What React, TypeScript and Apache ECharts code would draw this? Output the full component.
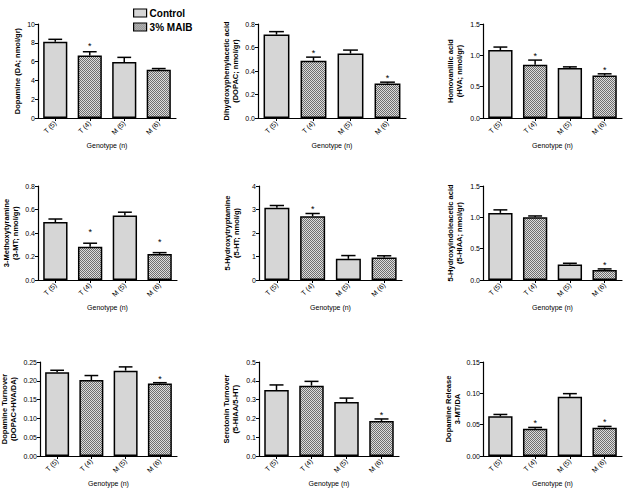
import React, { useEffect, useRef } from "react";
import * as echarts from "echarts";

// ---------- data ----------
const categories = ["T (5)", "T (4)", "M (5)", "M (6)"];
const seriesNames = ["Control", "3% MAIB"];
const xAxisTitle = "Genotype (n)";

const daMean = [8.1, 6.65, 5.95, 5.12];
const daSem = [0.27, 0.4, 0.5, 0.14];
const daSig = [0, 1, 0, 0];

const dopacMean = [0.71, 0.487, 0.549, 0.293];
const dopacSem = [0.025, 0.031, 0.029, 0.012];
const dopacSig = [0, 1, 0, 1];

const hvaMean = [1.084, 0.849, 0.796, 0.678];
const hvaSem = [0.048, 0.075, 0.02, 0.027];
const hvaSig = [0, 1, 0, 1];

const mtMean = [0.493, 0.282, 0.549, 0.222];
const mtSem = [0.026, 0.031, 0.028, 0.011];
const mtSig = [0, 1, 0, 1];

const htMean = [3.07, 2.71, 0.9, 0.96];
const htSem = [0.1, 0.12, 0.14, 0.07];
const htSig = [0, 1, 0, 0];

const hiaaMean = [1.071, 1.0, 0.246, 0.161];
const hiaaSem = [0.048, 0.022, 0.021, 0.016];
const hiaaSig = [0, 0, 0, 1];

const daTurnMean = [0.223, 0.202, 0.227, 0.193];
const daTurnSem = [0.005, 0.012, 0.01, 0.002];
const daTurnSig = [0, 0, 0, 1];

const htTurnMean = [0.351, 0.374, 0.287, 0.186];
const htTurnSem = [0.027, 0.023, 0.021, 0.011];
const htTurnSig = [0, 0, 0, 1];

const releaseMean = [0.0633, 0.0436, 0.0947, 0.0452];
const releaseSem = [0.003, 0.002, 0.0048, 0.002];
const releaseSig = [0, 1, 0, 1];

const yTitles = [
  "Dopamine (DA; nmol/gr)",
  "Dihydroxyphenylacetic acid\n(DOPAC; nmol/gr)",
  "Homovanillic acid\n(HVA; nmol/gr)",
  "3-Methoxytyramine\n(3-MT; nmol/gr)",
  "5-Hydroxytryptamine\n(5-HT; nmol/g)",
  "5-Hydroxyindoleacetic acid\n(5-HIAA; nmol/gr)",
  "Dopamine Turnover\n(DOPAC+HVA/DA)",
  "Serotonin Turnover\n(5-HIAA/5-HT)",
  "Dopamine Release\n3-MT/DA",
];
const yMax = [10, 0.8, 1.5, 0.8, 4, 1.5, 0.25, 0.5, 0.15];
const yInterval = [2, 0.2, 0.5, 0.2, 1, 0.5, 0.05, 0.1, 0.05];
const yDecimals = [0, 1, 1, 1, 0, 1, 2, 1, 2];

const means = [daMean, dopacMean, hvaMean, mtMean, htMean, hiaaMean, daTurnMean, htTurnMean, releaseMean];
const sems = [daSem, dopacSem, hvaSem, mtSem, htSem, hiaaSem, daTurnSem, htTurnSem, releaseSem];
const sigs = [daSig, dopacSig, hvaSig, mtSig, htSig, hiaaSig, daTurnSig, htTurnSig, releaseSig];

// ---------- layout ----------
const layout = [
  { left: 38, top: 24, width: 138, nameGap: 16, starGap: 6 },
  { left: 258, top: 24, width: 148, nameGap: 18, starGap: 4 },
  { left: 483, top: 24, width: 139, nameGap: 19, starGap: 4 },
  { left: 38, top: 186, width: 139, nameGap: 18, starGap: 11 },
  { left: 259, top: 186, width: 143, nameGap: 18, starGap: 4 },
  { left: 483, top: 186, width: 139, nameGap: 19, starGap: 4 },
  { left: 40, top: 362, width: 137, nameGap: 22, starGap: 4 },
  { left: 259, top: 362, width: 140, nameGap: 19, starGap: 4 },
  { left: 483, top: 362, width: 139, nameGap: 21, starGap: 4 },
];
const gridHeight = 94;
const FONT = '"Liberation Sans", Arial, Helvetica, sans-serif';

function makeHatch() {
  const c = document.createElement("canvas");
  c.width = 4;
  c.height = 4;
  const ctx = c.getContext("2d")!;
  for (let y = 0; y < 4; y++) {
    for (let x = 0; x < 4; x++) {
      ctx.fillStyle = (x + y) % 2 === 0 ? "#6e6e6e" : "#dcdcdc";
      ctx.fillRect(x, y, 1, 1);
    }
  }
  return c;
}

export default function App() {
  const ref = useRef<HTMLDivElement>(null);
  useEffect(() => {
    if (!ref.current) return;
    const chart = echarts.init(ref.current, null, { renderer: "svg" });
    const hatch = {
      image: makeHatch(),
      repeat: "repeat",
      imageWidth: 4,
      imageHeight: 4,
    } as any;
    const controlColor = "#d6d6d6";

    const grid: any[] = [];
    const xAxis: any[] = [];
    const yAxis: any[] = [];
    const series: any[] = [];

    layout.forEach((L, i) => {
      grid.push({
        left: L.left,
        top: L.top,
        width: L.width,
        height: gridHeight,
        containLabel: false,
        outerBoundsMode: "none",
      });
      xAxis.push({
        type: "category",
        gridIndex: i,
        data: categories,
        boundaryGap: true,
        axisLine: { show: true, lineStyle: { color: "#000", width: 1.2 } },
        axisTick: { show: true, alignWithLabel: true, length: 3, lineStyle: { color: "#000", width: 1 } },
        axisLabel: { rotate: 45, fontSize: 7, color: "#000", margin: 4, fontFamily: FONT, interval: 0 },
        splitLine: { show: false },
        name: xAxisTitle,
        nameLocation: "middle",
        nameGap: 24,
        nameTextStyle: { fontSize: 7, color: "#000", fontFamily: FONT },
      });
      const dec = yDecimals[i];
      yAxis.push({
        type: "value",
        gridIndex: i,
        min: 0,
        max: yMax[i],
        interval: yInterval[i],
        axisLine: { show: true, lineStyle: { color: "#000", width: 1.2 } },
        axisTick: { show: true, length: 3, lineStyle: { color: "#000", width: 1 } },
        axisLabel: {
          fontSize: 7,
          color: "#000",
          margin: 3,
          fontFamily: FONT,
          formatter: (v: number) => v.toFixed(dec),
        },
        splitLine: { show: false },
        name: yTitles[i],
        nameLocation: "middle",
        nameRotate: 90,
        nameGap: L.nameGap,
        nameTextStyle: { fontSize: 7.5, fontWeight: "bold", color: "#000", fontFamily: FONT, lineHeight: 9 },
      });
      const m = means[i];
      const s = sems[i];
      const g = sigs[i];
      series.push({
        type: "bar",
        name: seriesNames[0],
        xAxisIndex: i,
        yAxisIndex: i,
        barWidth: "70%",
        barGap: "-100%",
        data: m.map((v, j) => (j % 2 === 0 ? v : "-")),
        itemStyle: { color: controlColor, borderColor: "#000", borderWidth: 1.5 },
        emphasis: { disabled: true },
      });
      series.push({
        type: "bar",
        name: seriesNames[1],
        xAxisIndex: i,
        yAxisIndex: i,
        barWidth: "70%",
        barGap: "-100%",
        data: m.map((v, j) => (j % 2 === 1 ? v : "-")),
        itemStyle: { color: hatch, borderColor: "#000", borderWidth: 1.5 },
        emphasis: { disabled: true },
      });
      const starGap = L.starGap;
      series.push({
        type: "custom",
        xAxisIndex: i,
        yAxisIndex: i,
        z: 5,
        clip: false,
        encode: { x: 0, y: 1 },
        data: m.map((v, j) => [j, v, s[j], g[j]]),
        renderItem: (params: any, api: any) => {
          const idx = api.value(0);
          const mean = api.value(1);
          const e = api.value(2);
          const sig = api.value(3);
          const base = api.coord([idx, mean]);
          const top = api.coord([idx, mean + e]);
          const bw = api.size([1, 0])[0];
          const cap = bw * 0.2;
          const children: any[] = [
            {
              type: "line",
              shape: { x1: base[0], y1: base[1], x2: top[0], y2: top[1] },
              style: { stroke: "#000", lineWidth: 1.5 },
            },
            {
              type: "line",
              shape: { x1: top[0] - cap, y1: top[1], x2: top[0] + cap, y2: top[1] },
              style: { stroke: "#000", lineWidth: 1.5 },
            },
          ];
          if (sig) {
            children.push({
              type: "text",
              x: top[0],
              y: top[1] - starGap,
              style: {
                text: "*",
                fill: "#000",
                fontSize: 9,
                fontFamily: FONT,
                align: "center",
                verticalAlign: "middle",
              },
            });
          }
          return { type: "group", children };
        },
      });
    });

    chart.setOption({
      animation: false,
      backgroundColor: "#ffffff",
      legend: {
        data: seriesNames,
        orient: "vertical",
        left: 128,
        top: 3,
        icon: "rect",
        itemWidth: 13,
        itemHeight: 8,
        itemGap: 4,
        selectedMode: false,
        itemStyle: { borderColor: "#000", borderWidth: 1.2 },
        textStyle: { fontSize: 10, fontWeight: "bold", color: "#000", fontFamily: FONT, padding: [0, 0, 0, -2] },
      },
      grid,
      xAxis,
      yAxis,
      series,
    });
    return () => chart.dispose();
  }, []);
  return (
    <div
      ref={ref}
      style={{ position: "absolute", left: 0, top: 0, width: 629, height: 494, background: "#fff" }}
    />
  );
}
